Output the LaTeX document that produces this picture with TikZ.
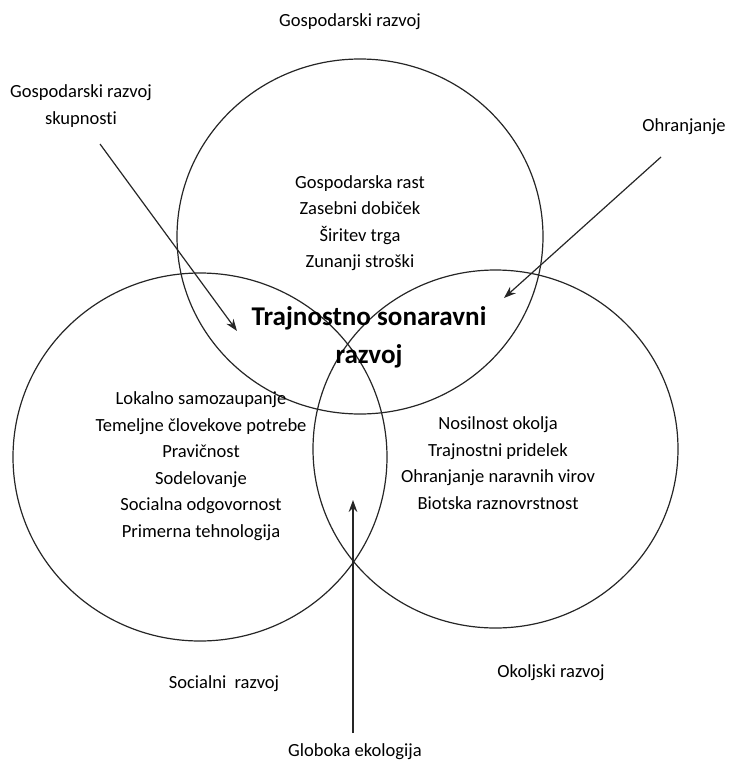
\documentclass[tikz,border=0pt]{standalone}
\usepackage{fontspec}
\setmainfont{Carlito}[Ligatures=NoCommon]
\usetikzlibrary{arrows.meta}

\tikzset{
  krog/.style={draw=black!85, line width=0.9pt},
  puscica/.style={draw=black!85, line width=0.9pt, -{Stealth[length=9pt,width=6.5pt]}},
  besedilo/.style={font=\fontsize{13.9}{19.9}\selectfont, align=center, inner sep=0pt},
  naslov/.style={font=\fontsize{20.3}{28.5}\selectfont\bfseries, align=center, inner sep=0pt}
}

\begin{document}
\begin{tikzpicture}[x=0.75pt,y=0.75pt,yscale=-1,xscale=1]
\useasboundingbox (0,0) rectangle (729,760);

%Shape: Circle [gospodarski]
\draw [krog] (360,236.5) ellipse [x radius=183, y radius=177.5];
%Shape: Circle [socialni]
\draw [krog] (200,457) ellipse [x radius=187, y radius=184];
%Shape: Circle [okoljski]
\draw [krog] (495.5,449) ellipse [x radius=182.5, y radius=179];

% Text Node
\node [besedilo] (gosp) at (350,22) {Gospodarski razvoj};
% Text Node
\node [besedilo] (skup) at (81,106) {Gospodarski razvoj\\skupnosti};
% Text Node
\node [besedilo] (ohr) at (684,127) {Ohranjanje};
% Text Node
\node [besedilo] (gosplist) at (360,223) {Gospodarska rast\\Zasebni dobiček\\Širitev trga\\Zunanji stroški};
% Text Node
\node [naslov] (trs) at (369,337) {Trajnostno sonaravni\\razvoj};
% Text Node
\node [besedilo] (soclist) at (201,466) {Lokalno samozaupanje\\Temeljne človekove potrebe\\Pravičnost\\Sodelovanje\\Socialna odgovornost\\Primerna tehnologija};
% Text Node
\node [besedilo] (okolist) at (498,463) {Nosilnost okolja\\Trajnostni pridelek\\Ohranjanje naravnih virov\\Biotska raznovrstnost};
% Text Node
\node [besedilo] (soc) at (224,684) {Socialni\ \ razvoj};
% Text Node
\node [besedilo] (oko) at (551,673) {Okoljski razvoj};
% Text Node
\node [besedilo] (glob) at (355,752) {Globoka ekologija};

\coordinate (skupzac) at (100,144);
\coordinate (skupkon) at (237,331);
\coordinate (ohrzac) at (661,157);
\coordinate (ohrkon) at (504,298);
\coordinate (globzac) at (353,733);
\coordinate (globkon) at (353,500);

%Straight Lines [arrows]
\draw [puscica] (skupzac) -- (skupkon);
\draw [puscica] (ohrzac) -- (ohrkon);
\draw [puscica] (globzac) -- (globkon);

\end{tikzpicture}
\end{document}
